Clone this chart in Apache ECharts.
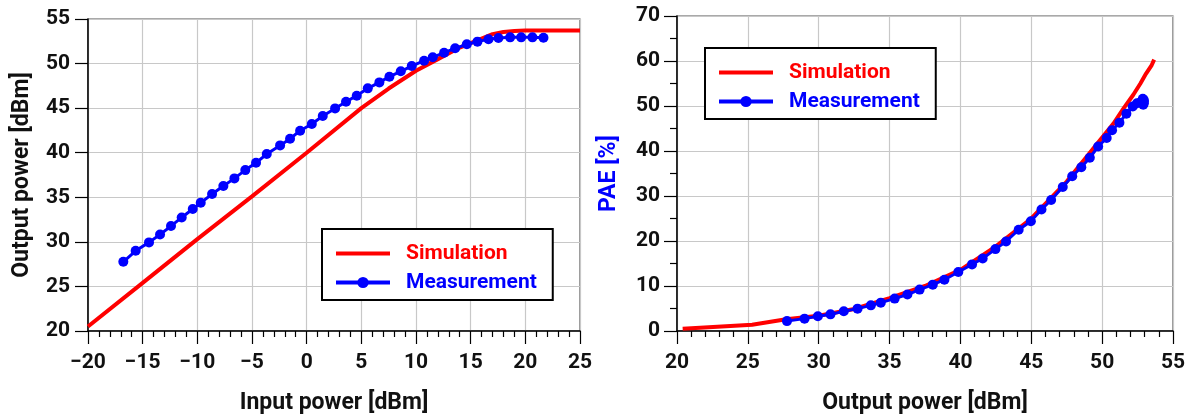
<!DOCTYPE html>
<html>
<head>
<meta charset="utf-8">
<script src="https://cdn.jsdelivr.net/npm/echarts@6/dist/echarts.min.js"></script>
<style>
  html, body { margin: 0; padding: 0; background: #fff; }
  #chart { width: 1190px; height: 414px; }
</style>
</head>
<body>
<div id="chart"></div>
<script>
// 左图：输入功率 -> 输出功率
const simPin = [-20, -15, -10, -5, 0, 5, 7.5, 10, 12, 14, 16, 17, 18, 19, 20, 25]
const simPout = [20.5, 25.4, 30.3, 35.1, 40.0, 45.0, 47.2, 49.2, 50.5, 51.8, 52.8, 53.3, 53.55, 53.65, 53.7, 53.7]

const measPin = [-16.77, -15.64, -14.42, -13.41, -12.41, -11.43, -10.42, -9.69, -8.65, -7.62, -6.61, -5.61, -4.63, -3.65, -2.43, -1.52, -0.6, 0.47, 1.47, 2.6, 3.6, 4.58, 5.59, 6.65, 7.57, 8.61, 9.61, 10.74, 11.53, 12.57, 13.58, 14.65, 15.62, 16.63, 17.54, 18.61, 19.62, 20.65, 21.66]
const measPout = [27.76, 29.0, 29.94, 30.83, 31.77, 32.74, 33.68, 34.38, 35.36, 36.26, 37.12, 38.05, 38.87, 39.85, 40.82, 41.57, 42.47, 43.22, 44.11, 44.97, 45.72, 46.4, 47.22, 47.89, 48.53, 49.13, 49.72, 50.32, 50.7, 51.22, 51.71, 52.16, 52.46, 52.72, 52.87, 52.94, 52.94, 52.94, 52.9]

// 右图：输出功率 -> PAE
const simPaeX = [20.4, 25.3, 27.7, 30, 32.5, 35, 37.5, 40, 42.5, 45, 47.5, 50, 50.8, 51.5, 52.2, 52.7, 53.1, 53.5, 53.67]
const simPae = [0.5, 1.4, 2.6, 3.4, 4.9, 7.3, 10.0, 13.6, 18.8, 25.0, 33.2, 43.0, 46.1, 49.4, 52.5, 55.0, 57.2, 59.1, 60.3]
const measPae = [2.2, 2.75, 3.27, 3.7, 4.38, 4.97, 5.7, 6.3, 7.2, 8.1, 9.2, 10.3, 11.4, 13.1, 14.8, 16.1, 18.2, 19.9, 22.5, 24.4, 27.0, 29.1, 32.0, 34.4, 36.4, 38.5, 41.0, 42.9, 44.6, 46.3, 48.3, 49.9, 50.6, 50.9, 51.6, 51.3, 51.0, 50.6, 50.3]

const seriesNames = ['Simulation', 'Measurement']

const FONT = 'Roboto'
const RED = '#ff0000'
const BLUE = '#0000ff'

const zip = (xs, ys) => xs.map((x, i) => [x, ys[i]])

function axisBase(min, max, interval, minorSplit) {
  return {
    type: 'value',
    min,
    max,
    interval,
    axisLine: { show: true, onZero: false, lineStyle: { color: '#000', width: 1.5 } },
    axisTick: { show: true, inside: false, length: 13, lineStyle: { color: '#000', width: 1.2 } },
    minorTick: { show: minorSplit > 0, splitNumber: minorSplit || 5, length: 6, lineStyle: { color: '#000', width: 1.2 } },
    splitLine: { show: true, lineStyle: { color: '#c8c8c8', width: 1.2 } },
    axisLabel: {
      color: '#111',
      fontFamily: FONT,
      fontWeight: 'bold',
      fontSize: 21,
      formatter: (v) => String(v).replace('-', '\u2212'),
    },
    nameLocation: 'middle',
    nameTextStyle: { fontFamily: FONT, fontWeight: 'bold', fontSize: 23, color: '#111' },
  }
}

function legendBox(left, top) {
  return {
    left,
    top,
    orient: 'vertical',
    backgroundColor: '#fff',
    borderColor: '#000',
    borderWidth: 2,
    borderRadius: 0,
    padding: [13, 16, 6, 12],
    itemGap: 6,
    itemWidth: 54,
    itemHeight: 14,
    lineStyle: { width: 4 },
    data: [
      // 仿真曲线只画一条粗线，不带圆点
      { name: seriesNames[0], icon: 'path://M0,0L54,0L54,4L0,4Z', itemStyle: { color: RED }, textStyle: { color: RED } },
      { name: seriesNames[1], textStyle: { color: BLUE } },
    ],
    textStyle: { fontFamily: FONT, fontWeight: 'bold', fontSize: 21, lineHeight: 23, padding: [0, 0, 0, 11] },
  }
}

const chart = echarts.init(document.getElementById('chart'))

const xLeft = axisBase(-20, 25, 5, 5)
xLeft.gridIndex = 0
xLeft.name = 'Input power [dBm]'
xLeft.nameGap = 61
xLeft.axisLabel.margin = 21

const yLeft = axisBase(20, 55, 5, 0)
yLeft.gridIndex = 0
yLeft.name = 'Output power [dBm]'
yLeft.nameGap = 54
yLeft.axisLabel.margin = 18

const xRight = axisBase(20, 55, 5, 5)
xRight.gridIndex = 1
xRight.name = 'Output power [dBm]'
xRight.nameGap = 61
xRight.axisLabel.margin = 21

const yRight = axisBase(0, 70, 10, 2)
yRight.gridIndex = 1
yRight.name = 'PAE [%]'
yRight.nameGap = 56
yRight.minorTick.length = 7
yRight.nameTextStyle = Object.assign({}, yRight.nameTextStyle, { color: BLUE })
yRight.axisLabel.margin = 17

chart.setOption({
  animation: false,
  grid: [
    { left: 88, right: 610, top: 19, bottom: 83, outerBoundsMode: 'none', show: true, borderColor: '#555', borderWidth: 1.2, backgroundColor: 'transparent' },
    { left: 677, right: 17, top: 16, bottom: 83, outerBoundsMode: 'none', show: true, borderColor: '#555', borderWidth: 1.2, backgroundColor: 'transparent' },
  ],
  xAxis: [xLeft, xRight],
  yAxis: [yLeft, yRight],
  legend: [legendBox(322, 229), legendBox(705, 48)],
  series: [
    {
      name: seriesNames[0],
      type: 'line',
      xAxisIndex: 0,
      yAxisIndex: 0,
      data: zip(simPin, simPout),
      symbol: 'none',
      lineStyle: { color: RED, width: 4 },
      itemStyle: { color: RED },
    },
    {
      name: seriesNames[1],
      type: 'line',
      xAxisIndex: 0,
      yAxisIndex: 0,
      data: zip(measPin, measPout),
      symbol: 'circle',
      symbolSize: 10,
      lineStyle: { color: BLUE, width: 3 },
      itemStyle: { color: BLUE },
    },
    {
      name: seriesNames[0],
      type: 'line',
      xAxisIndex: 1,
      yAxisIndex: 1,
      data: zip(simPaeX, simPae),
      symbol: 'none',
      lineStyle: { color: RED, width: 4 },
      itemStyle: { color: RED },
    },
    {
      name: seriesNames[1],
      type: 'line',
      xAxisIndex: 1,
      yAxisIndex: 1,
      data: zip(measPout, measPae),
      symbol: 'circle',
      symbolSize: 10,
      lineStyle: { color: BLUE, width: 3 },
      itemStyle: { color: BLUE },
    },
  ],
})
</script>
</body>
</html>
